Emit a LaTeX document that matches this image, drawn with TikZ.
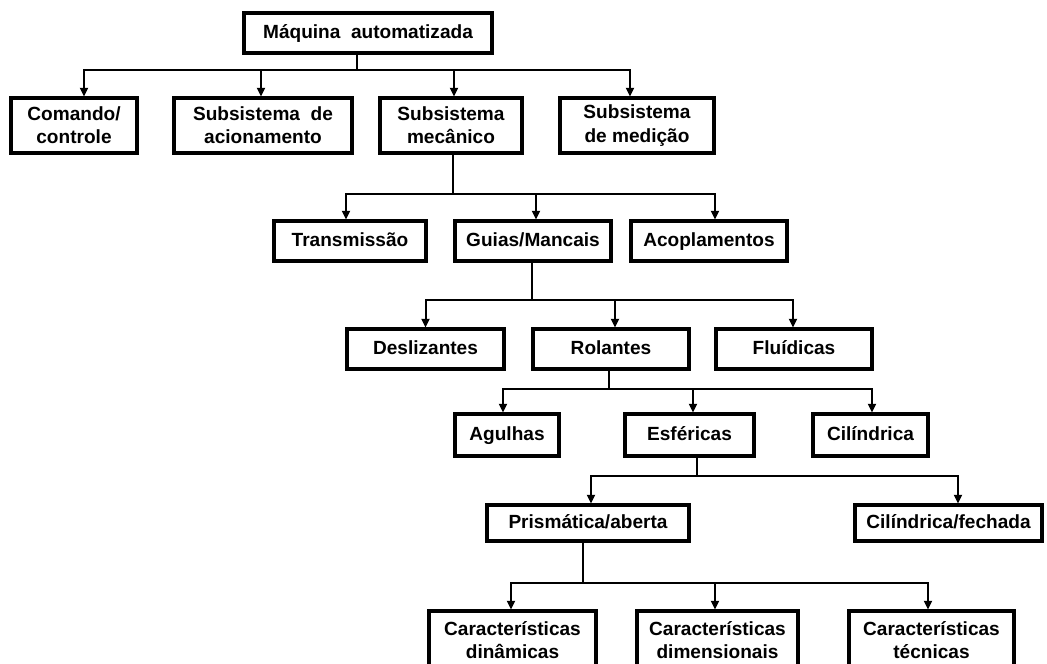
\documentclass[tikz,border=0pt]{standalone}
\usepackage{fontspec}
\setmainfont{Liberation Sans}
\usetikzlibrary{arrows.meta,positioning,calc}

\tikzset{
  caixa/.style 2 args={draw, line width=2.3pt, inner sep=0pt, align=center,
    minimum width=#1*0.75pt, minimum height=#2*0.75pt,
    font=\bfseries\fontsize{14.3}{17.5}\selectfont},
  linha/.style={text height=10.5pt, text depth=3pt},
  seta/.style={line width=1.5pt, -{Triangle[length=6.5pt,width=6pt]}}
}

\begin{document}
\begin{tikzpicture}[x=0.75pt, y=-0.75pt]
    \useasboundingbox (0,0) rectangle (1047,664);

    \node[caixa={248}{40}, linha] (maq) at (368,33) {Máquina\ \ automatizada};

    \node[caixa={126}{55}] (cmd) at (74,125.5) {Comando/\\controle};
    \node[caixa={178}{55}] (acion) at (263,125.5) {Subsistema\ \ de\\acionamento};
    \node[caixa={142}{55}] (mec) at (451,125.5) {Subsistema\\mecânico};
    \node[caixa={154}{55}] (med) at (637,125.5) {Subsistema\\de medição};

    \node[caixa={152}{40}, linha] (trans) at (350,241) {Transmissão};
    \node[caixa={156}{40}, linha] (guias) at (533,241) {Guias/Mancais};
    \node[caixa={156}{40}, linha] (acop) at (709,241) {Acoplamentos};

    \node[caixa={157}{40}, linha] (desl) at (425.5,349) {Deslizantes};
    \node[caixa={156}{40}, linha] (rol) at (611,349) {Rolantes};
    \node[caixa={156}{40}, linha] (flu) at (794,349) {Fluídicas};

    \node[caixa={104}{42}, linha] (agu) at (507,435) {Agulhas};
    \node[caixa={129}{42}, linha] (esf) at (689.5,435) {Esféricas};
    \node[caixa={115}{42}, linha] (cil) at (870.5,435) {Cilíndrica};

    \node[caixa={202}{36}, linha] (pri) at (588,523) {Prismática/aberta};
    \node[caixa={187}{36}, linha] (cfe) at (948.5,523) {Cilíndrica/fechada};

    \node[caixa={167}{58}] (cd1) at (512.5,640) {Características\\dinâmicas};
    \node[caixa={161}{58}] (cd2) at (717.5,640) {Características\\dimensionais};
    \node[caixa={165}{58}] (cd3) at (931.5,640) {Características\\técnicas};

    \foreach \f/\dx in {cmd/10,acion/-2,mec/3,med/-7}
        \draw[seta] ([xshift=-11*0.75pt]maq.south) -- ++(0,15) -| ([xshift=\dx*0.75pt]\f.north);
    \foreach \f/\dx in {trans/-4,guias/3,acop/6}
        \draw[seta] ([xshift=2*0.75pt]mec.south) -- ++(0,39) -| ([xshift=\dx*0.75pt]\f.north);
    \foreach \f/\dx in {desl/0,rol/4,flu/-1}
        \draw[seta] ([xshift=-1*0.75pt]guias.south) -- ++(0,37) -| ([xshift=\dx*0.75pt]\f.north);
    \foreach \f/\dx in {agu/-4,esf/3.5,cil/1.5}
        \draw[seta] ([xshift=-2*0.75pt]rol.south) -- ++(0,18) -| ([xshift=\dx*0.75pt]\f.north);
    \foreach \f/\dx in {pri/3,cfe/9.5}
        \draw[seta] ([xshift=7.5*0.75pt]esf.south) -- ++(0,18) -| ([xshift=\dx*0.75pt]\f.north);
    \foreach \f/\dx in {cd1/-1.5,cd2/-2.5,cd3/-3.5}
        \draw[seta] ([xshift=-5*0.75pt]pri.south) -- ++(0,40) -| ([xshift=\dx*0.75pt]\f.north);
\end{tikzpicture}
\end{document}
